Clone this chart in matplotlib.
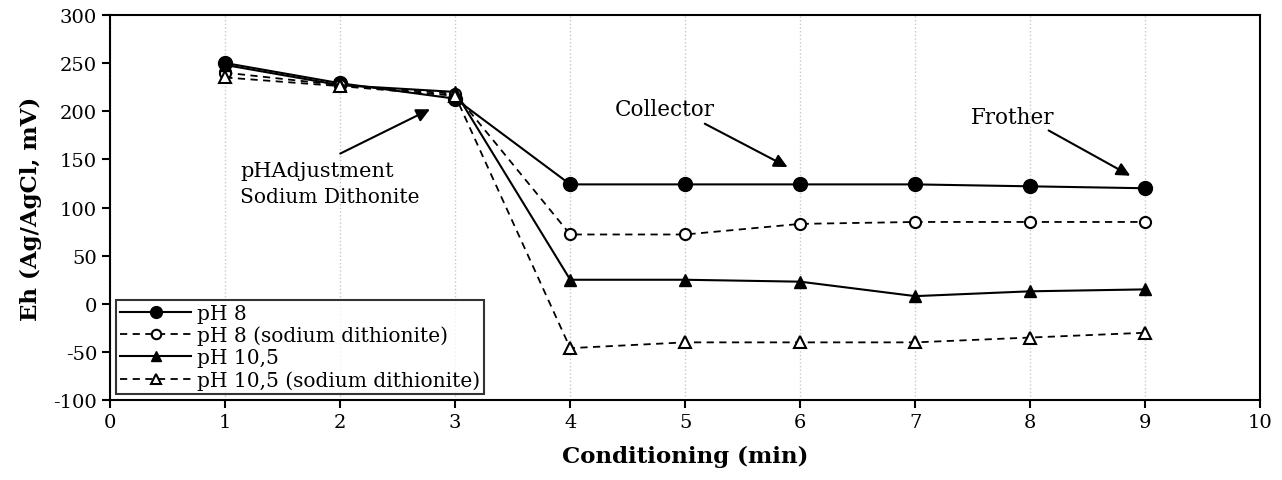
import matplotlib.pyplot as plt

plt.rcParams['font.family'] = ['DejaVu Serif']
plt.rcParams['axes.unicode_minus'] = False

minutes = [1, 2, 3, 4, 5, 6, 7, 8, 9]
ph8 = [250, 229, 213, 124, 124, 124, 124, 122, 120]
ph8_dithionite = [240, 227, 218, 72, 72, 83, 85, 85, 85]
ph105 = [248, 227, 220, 25, 25, 23, 8, 13, 15]
ph105_dithionite = [235, 226, 216, -46, -40, -40, -40, -35, -30]

fig = plt.figure(figsize=(12.82, 4.81), dpi=100)
ax = fig.add_axes([0.086, 0.166, 0.897, 0.801])

ax.plot(minutes, ph8, '-', color='black', lw=1.5, marker='o', ms=10,
        mfc='black', label='pH 8')
ax.plot(minutes, ph8_dithionite, '--', color='black', lw=1.3, marker='o', ms=8,
        mfc='white', mew=1.5, dashes=(4, 3), label='pH 8 (sodium dithionite)')
ax.plot(minutes, ph105, '-', color='black', lw=1.5, marker='^', ms=9,
        mfc='black', label='pH 10,5')
ax.plot(minutes, ph105_dithionite, '--', color='black', lw=1.3, marker='^', ms=8,
        mfc='white', mew=1.5, dashes=(4, 3), label='pH 10,5 (sodium dithionite)')

ax.set_xlim(0, 10)
ax.set_ylim(-100, 300)
ax.set_xticks(range(0, 11))
ax.set_yticks(range(-100, 301, 50))
ax.grid(axis='x', color='#c8c8c8', linestyle=':', lw=1)
ax.set_axisbelow(True)
ax.tick_params(direction='out', length=6, width=1.5, labelsize=14)
for s in ax.spines.values():
    s.set_linewidth(1.5)

ax.set_xlabel('Conditioning (min)', fontsize=16.5, fontweight='bold', labelpad=10)
ax.set_ylabel('Eh (Ag/AgCl, mV)', fontsize=16.5, fontweight='bold', labelpad=8)

arrow = dict(arrowstyle='-|>', color='black', lw=1.5, mutation_scale=20,
             shrinkA=0, shrinkB=0)
ax.annotate('', xy=(2.78, 202), xytext=(2.0, 156), arrowprops=arrow)
ax.text(1.13, 138, 'pHAdjustment', fontsize=15, va='center')
ax.text(1.13, 111, 'Sodium Dithonite', fontsize=14.5, va='center')
ax.annotate('', xy=(5.89, 142), xytext=(5.17, 187), arrowprops=arrow)
ax.text(4.39, 202, 'Collector', fontsize=15.5, va='center')
ax.annotate('', xy=(8.87, 133), xytext=(8.16, 180), arrowprops=arrow)
ax.text(7.48, 194, 'Frother', fontsize=15.5, va='center')

leg = ax.legend(loc='lower left', fontsize=14.5, frameon=True, fancybox=False,
                borderaxespad=0.3, handlelength=3.5, labelspacing=0.15,
                borderpad=0.2, handletextpad=0.3, markerscale=0.85)
leg.get_frame().set_edgecolor('black')
leg.get_frame().set_linewidth(1.5)

fig.savefig('out.png', dpi=100)
